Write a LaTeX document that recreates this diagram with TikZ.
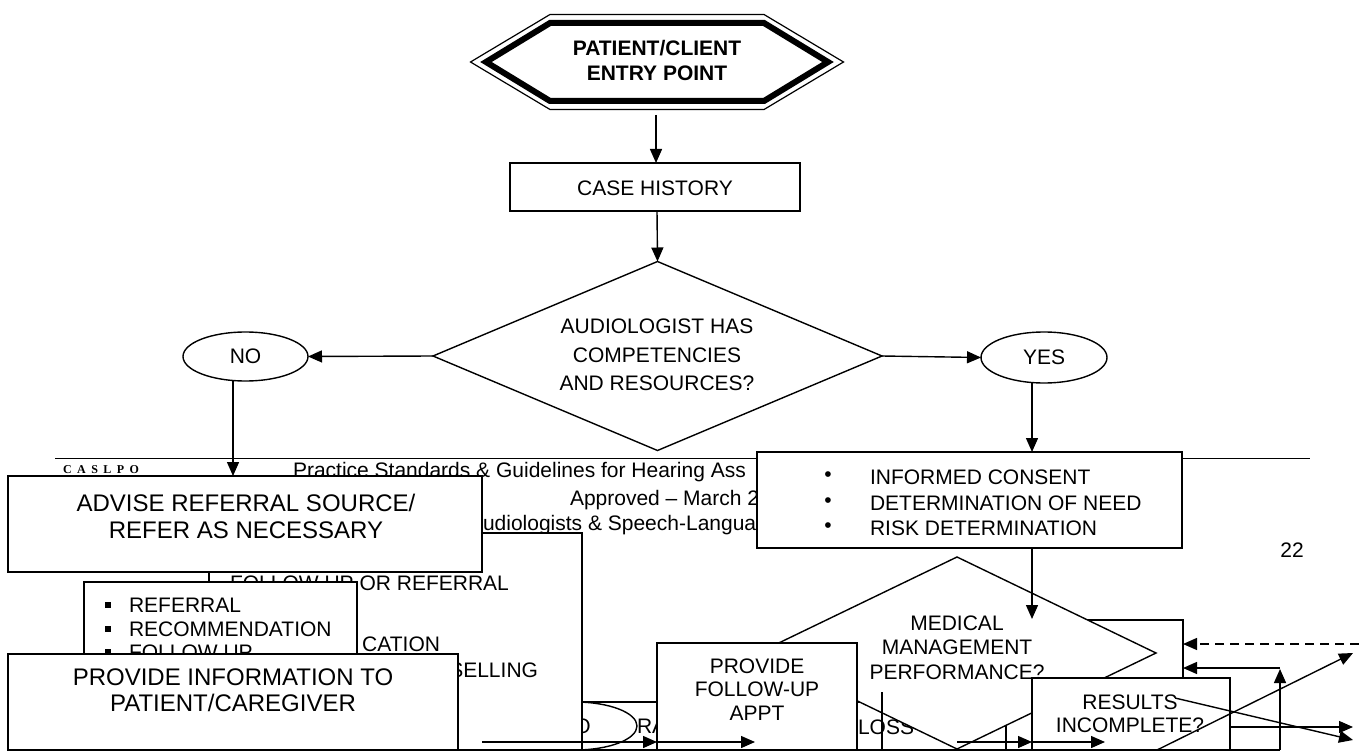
\documentclass[tikz,border=0pt]{standalone}
\usepackage{fontspec}
\setmainfont{Liberation Sans}
\newfontfamily\caslpofont[LetterSpace=45]{Liberation Serif}
\usetikzlibrary{shapes.geometric,arrows.meta,calc}
\newcommand{\fsz}[2]{\fontsize{#1}{#2}\selectfont}
\begin{document}
\begin{tikzpicture}[x=1pt,y=-1pt,
  every node/.style={inner sep=0pt,outer sep=0pt,text=black},
  lw/.style={line width=1.4pt},
  arr/.style={line width=1.4pt,-{Triangle[length=14pt,width=12pt]}},
  boxst/.style={draw,line width=1.4pt,fill=white,rectangle},
  fa/.style={font=\fsz{21}{24.5},align=center},
  fb/.style={font=\fsz{24}{27},align=center},
  ft/.style={font=\fsz{21}{24},anchor=west},
]
\useasboundingbox (0,0) rectangle (1359,751);
\fill[white] (0,0) rectangle (1359,751);

% ---- page header / footer remnants
\coordinate (hl) at (55,458.5);
\coordinate (hr) at (1310,458.5);
\draw[lw] (hl) -- (hr);
\node[font=\caslpofont\bfseries\fsz{12}{13}] (caslpo) at (101,470) {CASLPO};
\node[ft] (ft1) at (293,472) {Practice Standards \& Guidelines for Hearing Ass};
\node[ft] (ft2) at (570,500) {Approved – March 2};
\node[ft] (ft3) at (483,525) {udiologists \& Speech-Langua};
\node[font=\fsz{21}{24}] (pnum) at (1292,550) {22};

% ---- entry point
\node[font=\bfseries\fsz{21}{25},align=center] (entry) at (657,60.5) {PATIENT/CLIENT\\ENTRY POINT};
\begin{scope}[shift={(657,62)}]
\draw[line width=1.2pt] (-186.5,0) -- (-107,-47.5) -- (107,-47.5) -- (186.5,0) -- (107,47.5) -- (-107,47.5) -- cycle;
\draw[line width=6pt,line join=miter] (-171,0) -- (-107,-39) -- (107,-39) -- (171,0) -- (107,39) -- (-107,39) -- cycle;
\end{scope}

% ---- case history
\node[boxst,minimum width=290pt,minimum height=48pt] (case) at (655,187) {};
\node[fa] (caset) at (655,188) {CASE HISTORY};
\coordinate (entryout) at (656,115);
\draw[arr] (entryout) -- (entryout |- case.north);

% ---- decision 1
\node[draw,lw,diamond,minimum width=449pt,minimum height=189pt] (dia1) at (657.5,356) {};
\node[fa,font=\fsz{21}{28.5}] (dia1t) at (657,355) {AUDIOLOGIST HAS\\COMPETENCIES\\AND RESOURCES?};
\coordinate (caseout) at (657,211);
\draw[arr] (caseout) -- (dia1.north);

\node[draw,lw,ellipse,minimum width=125pt,minimum height=49pt,font=\fsz{21}{24}] (no) at (245.5,356.5) {NO};
\node[draw,lw,ellipse,minimum width=126pt,minimum height=51pt,font=\fsz{21}{24}] (yes) at (1044,357.5) {YES};
\draw[arr] (dia1.west) -- (no.east);
\draw[arr] (dia1.east) -- (yes.west);

% ---- boxes behind (lower area)
\node[boxst,minimum width=446pt,minimum height=58pt] (lossbox) at (783,731) {};
\node[draw,lw,fill=white,ellipse,minimum width=124pt,minimum height=48pt,font=\fsz{21}{24}] (no2) at (575,726) {NO};
\node[ft] (rat) at (637,726) {RA};
\node[ft] (losst) at (858,727) {LOSS};
\node[boxst,minimum width=143pt,minimum height=140pt] (qbox) at (1111.5,690) {};

% ---- big follow-up/referral box
\node[boxst,minimum width=373pt,minimum height=227pt] (bigbox) at (395.5,646.5) {};
\node[ft] (fuor) at (230,583) {FOLLOW UP OR REFERRAL};
\node[font=\fsz{21}{24},anchor=east] (cation) at (440,644) {CATION};
\node[font=\fsz{21}{24},anchor=east] (selling) at (538,670) {SELLING};

% ---- advise box
\node[boxst,minimum width=474pt,minimum height=96pt] (advise) at (245,524) {};
\node[fb] (adviset) at (246,516.5) {ADVISE REFERRAL SOURCE/\\REFER AS NECESSARY};
\coordinate (nodown) at (233,380.5);
\draw[arr] (nodown) -- (nodown |- advise.north);

% ---- referral bullets box
\node[boxst,minimum width=273pt,minimum height=118pt] (refbox) at (220.5,641) {};
\fill (104.7,601.7) rectangle ++(6.6,6.6);
\fill (104.7,625.7) rectangle ++(6.6,6.6);
\fill (104.7,648.7) rectangle ++(6.6,6.6);
\node[ft] (r1) at (129,605) {REFERRAL};
\node[ft] (r2) at (129,629) {RECOMMENDATION};
\node[ft] (r3) at (129,652) {FOLLOW UP};

% ---- provide information box
\node[boxst,minimum width=450pt,minimum height=106pt] (provinfo) at (233,707) {};
\node[fb,font=\fsz{24}{26}] (provinfot) at (233,690.5) {PROVIDE INFORMATION TO\\PATIENT/CAREGIVER};

% ---- informed consent box
\node[boxst,minimum width=425pt,minimum height=96pt] (informed) at (969.5,500) {};
\node[font=\fsz{21}{24}] (bul1) at (828,477) {•};
\node[font=\fsz{21}{24}] (bul2) at (828,503) {•};
\node[font=\fsz{21}{24}] (bul3) at (828,528) {•};
\node[ft] (i1) at (870,477) {INFORMED CONSENT};
\node[ft] (i2) at (870,503) {DETERMINATION OF NEED};
\node[ft] (i3) at (870,528) {RISK DETERMINATION};
\coordinate (yesdown) at (1032,382.5);
\draw[arr] (yesdown) -- (yesdown |- informed.north);

% ---- medical management decision
\node[draw,lw,fill=white,diamond,minimum width=398pt,minimum height=192pt] (dia2) at (957,653) {};
\node[fa] (dia2t) at (957,647.5) {MEDICAL\\MANAGEMENT\\PERFORMANCE?};

% ---- follow-up appt box
\node[boxst,minimum width=200pt,minimum height=117pt] (fu) at (757,701.5) {};
\node[fa,font=\fsz{21}{23.5}] (fut) at (757,689.5) {PROVIDE\\FOLLOW-UP\\APPT};

% ---- results incomplete box
\node[boxst,minimum width=198pt,minimum height=82pt] (res) at (1131,719) {};
\node[fa,font=\fsz{21}{23}] (rest) at (1130,713.5) {RESULTS\\INCOMPLETE?};

% ---- connectors (lower area)
\coordinate (infdown) at (1032,548);
\coordinate (medin) at (1032,619);
\draw[arr] (infdown) -- (medin);

\coordinate (b1) at (482,742);
\coordinate (b2) at (755,742);
\draw[arr] (b1) -- (b1 -| fu.west);
\draw[arr] (b1 -| fu.west) -- (b2);
\coordinate (v1a) at (882,692);
\coordinate (v1b) at (882,751);
\draw[lw] (v1a) -- (v1b);
\coordinate (b3) at (957,742);
\coordinate (b4) at (1105,742);
\draw[arr] (b3) -- (b3 -| res.west);
\draw[arr] (b3 -| res.west) -- (b4);

\coordinate (r1a) at (1230,727);
\coordinate (r1b) at (1353,727);
\draw[arr] (r1a) -- (r1b);
\coordinate (r2a) at (1175,698);
\coordinate (r2b) at (1353,740);
\draw[arr] (r2a) -- (r2b);
\coordinate (r3a) at (1157,750);
\coordinate (r3b) at (1353,653);
\draw[arr] (r3a) -- (r3b);
\coordinate (loopa) at (1280,750);
\coordinate (loopb) at (1280,669);
\coordinate (loopc) at (1280,668);
\draw[arr] (loopa) -- (loopb);
\draw[arr] (loopc) -- (loopc -| qbox.east);
\coordinate (dsh) at (1359,644);
\draw[arr,dash pattern=on 9pt off 6pt] (dsh) -- (dsh -| qbox.east);
\coordinate (bl) at (8,750);
\draw[line width=2pt] (bl) -- (loopa);
\end{tikzpicture}
\end{document}
